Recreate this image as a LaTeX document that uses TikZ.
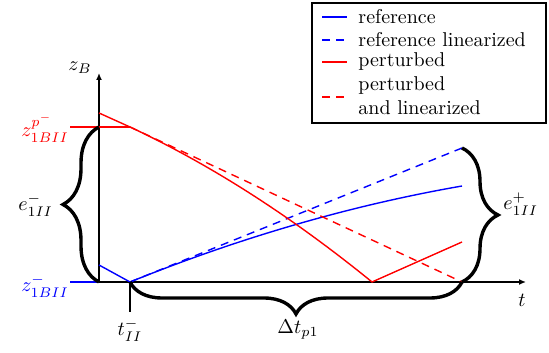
\documentclass[tikz,border=0pt]{standalone}
\usetikzlibrary{arrows.meta,positioning,decorations.pathreplacing,calc}
\definecolor{refblue}{RGB}{0,0,255}
\definecolor{pertred}{RGB}{255,0,0}
\tikzset{
  axis/.style={-{Latex[length=3.5pt,width=3pt]}, line width=0.7pt},
  refline/.style={draw=refblue, line width=0.7pt},
  reflin/.style={refline, dash pattern=on 4pt off 3pt},
  pertline/.style={draw=pertred, line width=0.7pt},
  pertlin/.style={pertline, dash pattern=on 4pt off 3pt},
  bracedeco/.style={decorate, decoration={brace, amplitude=16pt}, line width=1.7pt},
  legendbox/.style={draw, line width=0.7pt, minimum width=117pt, minimum height=60pt, inner sep=0pt},
  legtext/.style={anchor=west, inner sep=0pt, align=left}
}
\begin{document}
\begin{tikzpicture}[x=0.5pt, y=0.5pt]
  \useasboundingbox (0,0) rectangle (549,352);
  % axes
  \coordinate (O) at (99,70);
  \coordinate (tz) at (130,70);
  \coordinate (tend) at (462,70);
  \coordinate (ytop) at (99,279);
  \coordinate (xend) at (526,70);
  \draw[axis] (O) -- (ytop);
  \draw[axis] (O) -- (xend);
  \node (zB) at (80,284) {$z_B$};
  \node (tlab) at (522,52) {$t$};
  % markers on the z axis
  \coordinate (zref) at (70,70);
  \coordinate (zpl) at (70,225);
  \coordinate (zpr) at (130,225);
  \draw[refline] (zref) -- (O);
  \draw[pertline] (zpl) -- (zpr);
  \node[text=refblue] (zreflab) at (45,66) {$z^-_{1BII}$};
  \node[text=pertred] (zpertlab) at (45,224) {$z^{p^-}_{1BII}$};
  % tick
  \coordinate (tick) at (130,40);
  \draw[line width=0.6pt] (tz) -- (tick);
  \node (tIIlab) at (130,22) {$t^-_{II}$};
  % reference
  \coordinate (r0) at (99,87);
  \coordinate (r1) at (462,166);
  \coordinate (rl1) at (462,204);
  \draw[refline] (r0) -- (tz) .. controls (240.7,114.7) and (351.3,146.7) .. (r1);
  \draw[reflin] (tz) -- (rl1);
  % perturbed
  \coordinate (p0) at (99,239);
  \coordinate (pmin) at (372,70);
  \coordinate (p1) at (462,110);
  \draw[pertline] (p0) -- (zpr) .. controls (210.7,187.3) and (291.3,135.7) .. (pmin) -- (p1);
  \draw[pertlin] (zpr) -- (tend);
  % braces
  \draw[bracedeco, decoration={amplitude=18pt}] (O) -- (99,225);
  \node[anchor=east] (eminus) at (60,147) {$e^-_{1II}$};
  \draw[bracedeco, decoration={amplitude=18pt}] (rl1) -- (tend);
  \node[anchor=west, inner sep=1pt] (eplus) at (501,148) {$e^+_{1II}$};
  \draw[bracedeco] (tend) -- (tz);
  \node (dtlab) at (298,22) {$\Delta t_{p1}$};
  % legend
  \node[legendbox] (leg) at (429,289) {};
  \draw[refline] (322,335) -- (347,335);
  \node[legtext] (l1) at (358,335) {reference};
  \draw[reflin] (322,312) -- (347,312);
  \node[legtext] (l2) at (358,312) {reference linearized};
  \draw[pertline] (322,290) -- (347,290);
  \node[legtext] (l3) at (358,290) {perturbed};
  \draw[pertlin] (322,255) -- (347,255);
  \node[legtext] (l4) at (358,256) {perturbed\\and linearized};
\end{tikzpicture}
\end{document}
